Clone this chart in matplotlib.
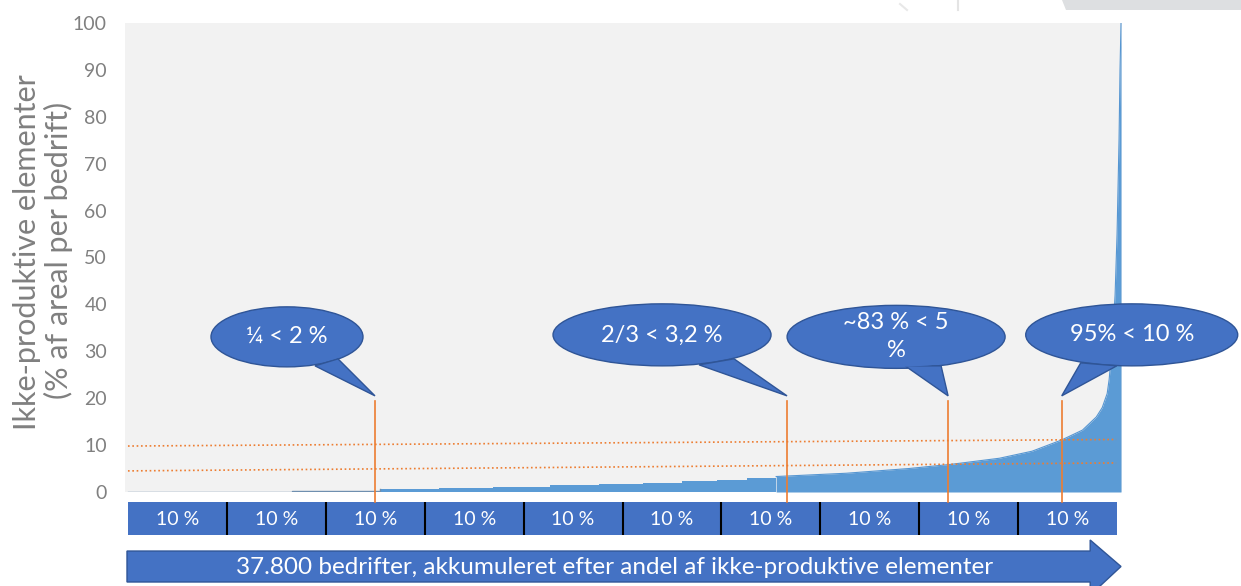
import numpy as np
import matplotlib
matplotlib.use("Agg")
import matplotlib.pyplot as plt
from matplotlib.patches import Ellipse, Polygon

plt.rcParams['font.family'] = ['Lato', 'DejaVu Sans']

# ---------------- data ----------------
# cumulative share of farms (sorted by share of non-productive elements)
# lower part: stair-like steps
step_share = [0.0, 0.166, 0.255, 0.315, 0.369, 0.427, 0.477, 0.521, 0.561,
              0.596, 0.626, 0.656]
step_pct = [0.0, 0.2, 0.6, 0.8, 1.1, 1.5, 1.7, 2.0, 2.3, 2.6, 2.9, 3.3]
# upper part: smooth rising tail
tail_share = [0.656, 0.727, 0.790, 0.833, 0.882, 0.915, 0.945, 0.966, 0.980,
              0.986, 0.991, 0.993, 0.996, 0.999, 1.001, 1.003, 1.004, 1.005]
tail_pct = [3.3, 4.0, 5.0, 5.9, 7.2, 8.7, 11.1, 13.2, 16.0,
            18.0, 21.0, 24.0, 31.0, 42.0, 55.0, 75.0, 90.0, 100.0]

y_ticks = [0, 10, 20, 30, 40, 50, 60, 70, 80, 90, 100]

# reference guide lines (dotted, ~5 % and ~10 %)
guide_x = [0.0, 1.0]
guide_10 = [9.8, 11.2]
guide_5 = [4.5, 6.2]

# callouts
callout_share = [0.25, 0.667, 0.83, 0.945]
callout_text = ['¼ < 2 %', '2/3 < 3,2 %', '~83 % < 5\n%', '95% < 10 %']
callout_tip_y = 20.5

decile_labels = ['10 %'] * 10
decile_width = 0.1

arrow_text = '37.800 bedrifter, akkumuleret efter andel af ikke-produktive elementer'
ylabel_line1 = 'Ikke-produktive elementer'
ylabel_line2 = '(% af areal per bedrift)'

# ---------------- style ----------------
W, H = 1241, 586
BLUE = '#4472C4'
BLUE_EDGE = '#2F5597'
AREA = '#5B9BD5'
ORANGE = '#ED7D31'
GRAY_BG = '#F2F2F2'
GRAY_TXT = '#808080'

fig = plt.figure(figsize=(W / 100, H / 100), dpi=100)
fig.patch.set_facecolor('white')


def px_rect(x0, y0, x1, y1):
    """figure-fraction rect from pixel box (y measured from top)"""
    return [x0 / W, (H - y1) / H, (x1 - x0) / W, (y1 - y0) / H]


# decorative slide shape top-right
deco = fig.add_axes([0, 0, 1, 1], zorder=0)
deco.set_xlim(0, W)
deco.set_ylim(H, 0)
deco.axis('off')
deco.add_patch(Polygon([(1062, 0), (1241, 0), (1241, 10), (1066, 10)],
                       closed=True, color='#DDDFE1', lw=0))
deco.plot([958, 958], [0, 10], color='#E4E4E4', lw=1.5)
deco.plot([900, 907], [4, 10], color='#E8E8E8', lw=1.5)

# ---------------- main axes ----------------
ax_l, ax_t, ax_r, ax_b = 125, 23, 1122, 492
ax = fig.add_axes(px_rect(ax_l, ax_t, ax_r, ax_b), zorder=2)
ax.set_facecolor(GRAY_BG)
xmin, xmax = -0.003, 1.006
ax.set_xlim(xmin, xmax)
ax.set_ylim(0, 100)
for s in ax.spines.values():
    s.set_visible(False)
ax.set_xticks([])
ax.set_yticks(y_ticks)
ax.tick_params(axis='y', length=0, pad=13, labelsize=14, labelcolor=GRAY_TXT)

ax.fill_between(step_share, step_pct, 0, step='post', color=AREA, lw=0,
                zorder=2)
ax.step(step_share[:3], step_pct[:3], where='post', color='#6F8FAF', lw=1.0,
        zorder=2)
ax.fill_between(tail_share, tail_pct, 0, color=AREA, lw=0, zorder=2)
ax.plot(tail_share, tail_pct, color='#5696D2', lw=0.8, zorder=2)

ax.plot(guide_x, guide_10, color=ORANGE, ls=(0, (1, 1.6)), lw=1.2, zorder=3)
ax.plot(guide_x, guide_5, color=ORANGE, ls=(0, (1, 1.6)), lw=1.2, zorder=3)

# pixel -> data conversion
px_x = (xmax - xmin) / (ax_r - ax_l)
px_y = 100.0 / (ax_b - ax_t)
bottom_line = -10 * px_y  # down to decile bar row

# callout geometry (pixels relative to tip)
callout_geom = [
    dict(c=(-88, 59), w=152, h=60, b1=(-60, 30), b2=(-37, 37)),
    dict(c=(-125, 61), w=218, h=62, b1=(-88, 31), b2=(-53, 37)),
    dict(c=(-52, 59), w=218, h=63, b1=(-43, 30), b2=(-7, 30)),
    dict(c=(70, 61), w=212, h=62, b1=(19, 33), b2=(55, 30)),
]

for share, txt, g in zip(callout_share, callout_text, callout_geom):
    tx, ty = share, callout_tip_y
    ax.plot([tx, tx], [ty - 1.0, bottom_line], color=ORANGE, lw=1.2,
            clip_on=False, zorder=4)
    cx = tx + g['c'][0] * px_x
    cy = ty + g['c'][1] * px_y
    ell = Ellipse((cx, cy), g['w'] * px_x, g['h'] * px_y, facecolor=BLUE,
                  edgecolor=BLUE_EDGE, lw=1.0, clip_on=False, zorder=5)
    ax.add_patch(ell)
    tail = Polygon([(tx + g['b1'][0] * px_x, ty + g['b1'][1] * px_y),
                    (tx, ty),
                    (tx + g['b2'][0] * px_x, ty + g['b2'][1] * px_y)],
                   closed=True, facecolor=BLUE, edgecolor=BLUE_EDGE, lw=1.0,
                   clip_on=False, zorder=5)
    ax.add_patch(tail)
    # cover the inner edge of the tail where it meets the ellipse
    cover = Ellipse((cx, cy), (g['w'] - 3) * px_x, (g['h'] - 3) * px_y,
                    facecolor=BLUE, edgecolor='none', clip_on=False, zorder=6)
    ax.add_patch(cover)
    ax.text(cx, cy, txt, ha='center', va='center', color='white',
            fontsize=17, linespacing=1.4, zorder=7, clip_on=False)

# ---------------- y label ----------------
fig.text(27 / W, 1 - 252 / H, ylabel_line1, rotation=90, ha='center',
         va='center', fontsize=22, color=GRAY_TXT)
fig.text(58 / W, 1 - 250 / H, ylabel_line2, rotation=90, ha='center',
         va='center', fontsize=22, color=GRAY_TXT)

# ---------------- decile bar row ----------------
axd = fig.add_axes(px_rect(128, 502, 1117, 535), zorder=1)
axd.set_xlim(0, 1)
axd.set_ylim(0, 1)
axd.axis('off')
lefts = np.arange(len(decile_labels)) * decile_width
axd.bar(lefts, 1, width=decile_width, align='edge', color=BLUE, lw=0)
for i, lab in enumerate(decile_labels):
    axd.text(lefts[i] + decile_width / 2, 0.48, lab, ha='center',
             va='center', color='white', fontsize=14)
axd.vlines(lefts[1:], 0, 1, color='black', lw=1.5)

# ---------------- bottom arrow ----------------
axa = fig.add_axes(px_rect(127, 540, 1121, 586), zorder=1)
axa.set_xlim(0, 1)
axa.set_ylim(0, 1)
axa.axis('off')
arrow = Polygon([(0, 0.087), (0.969, 0.087), (0.969, -0.2), (1.0, 0.424),
                 (0.969, 1.0), (0.969, 0.76), (0, 0.76)], closed=True,
                facecolor=BLUE, edgecolor=BLUE_EDGE, lw=1.0, clip_on=False)
axa.add_patch(arrow)
axa.text(0.491, 0.40, arrow_text, ha='center', va='center', color='white',
         fontsize=17.5)

fig.savefig('out.png', dpi=100, facecolor='white')
